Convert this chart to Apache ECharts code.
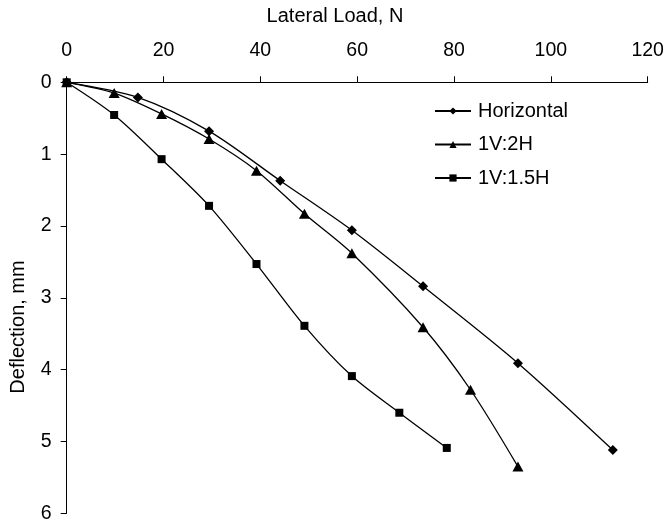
<!DOCTYPE html>
<html>
<head>
<meta charset="utf-8">
<script src="https://cdn.jsdelivr.net/npm/echarts@6/dist/echarts.min.js"></script>
<style>
  html, body { margin: 0; padding: 0; background: #fff; }
  #chart { width: 670px; height: 526px; }
</style>
</head>
<body>
<div id="chart"></div>
<script>
// Lateral load (N) vs. pile head deflection (mm)
const seriesNames = ['Horizontal', '1V:2H', '1V:1.5H'];

const loadHorizontal = [0, 14.7, 29.4, 44.1, 58.9, 73.6, 93.2, 112.8];
const deflHorizontal = [0, 0.21, 0.68, 1.37, 2.06, 2.84, 3.91, 5.12];

const load1V2H = [0, 9.8, 19.6, 29.4, 39.2, 49.1, 58.9, 73.6, 83.4, 93.2];
const defl1V2H = [0, 0.15, 0.44, 0.79, 1.23, 1.83, 2.38, 3.41, 4.28, 5.35];

const load1V15H = [0, 9.8, 19.6, 29.4, 39.2, 49.1, 58.9, 68.7, 78.5];
const defl1V15H = [0, 0.455, 1.07, 1.72, 2.53, 3.39, 4.09, 4.60, 5.09];

const xTicks = [0, 20, 40, 60, 80, 100, 120];
const yTicks = [0, 1, 2, 3, 4, 5, 6];

const FONT = '"Liberation Sans", Arial, sans-serif';

function pairs(xs, ys) {
  return xs.map((x, i) => [x, ys[i]]);
}

const symbols = [
  { symbol: 'diamond', size: [10, 10] },
  { symbol: 'triangle', size: [11, 10] },
  { symbol: 'rect', size: [8, 8] }
];
const dataSets = [
  pairs(loadHorizontal, deflHorizontal),
  pairs(load1V2H, defl1V2H),
  pairs(load1V15H, defl1V15H)
];

const chart = echarts.init(document.getElementById('chart'), null, { renderer: 'canvas' });

chart.setOption({
  backgroundColor: '#fff',
  animation: false,
  grid: { left: 66.7, right: 22.3, top: 82.3, bottom: 12.7, containLabel: false },
  xAxis: {
    type: 'value',
    position: 'top',
    min: xTicks[0],
    max: xTicks[xTicks.length - 1],
    interval: 20,
    axisLine: { show: true, lineStyle: { color: '#000', width: 1 } },
    axisTick: { show: true, length: 6, lineStyle: { color: '#000' } },
    axisLabel: { color: '#000', fontSize: 19.5, fontFamily: FONT, margin: 22 },
    splitLine: { show: false }
  },
  yAxis: {
    type: 'value',
    inverse: true,
    min: yTicks[0],
    max: yTicks[yTicks.length - 1],
    interval: 1,
    axisLine: { show: true, lineStyle: { color: '#000', width: 1 } },
    axisTick: { show: true, length: 6, lineStyle: { color: '#000' } },
    axisLabel: { color: '#000', fontSize: 19.5, fontFamily: FONT, margin: 15 },
    splitLine: { show: false }
  },
  legend: {
    orient: 'vertical',
    left: 429,
    top: 96,
    itemWidth: 36,
    itemHeight: 9,
    itemGap: 13.5,
    textStyle: { color: '#000', fontSize: 20, fontFamily: FONT, lineHeight: 20, padding: [0, 0, 0, 2] },
    data: seriesNames
  },
  graphic: [
    {
      type: 'text',
      x: 335,
      y: 16.5,
      style: {
        text: 'Lateral Load, N',
        fill: '#000',
        font: '20px ' + FONT,
        align: 'center',
        verticalAlign: 'middle'
      }
    },
    {
      type: 'text',
      x: 18.5,
      y: 327,
      rotation: Math.PI / 2,
      style: {
        text: 'Deflection, mm',
        fill: '#000',
        font: '20px ' + FONT,
        align: 'center',
        verticalAlign: 'middle'
      }
    }
  ],
  series: seriesNames.map((name, i) => ({
    name: name,
    type: 'line',
    data: dataSets[i],
    smooth: 0.3,
    symbol: symbols[i].symbol,
    symbolSize: symbols[i].size,
    showAllSymbol: true,
    lineStyle: { color: '#000', width: 1.3 },
    itemStyle: { color: '#000', borderWidth: 0 },
    z: 2 + i
  }))
});
</script>
</body>
</html>
